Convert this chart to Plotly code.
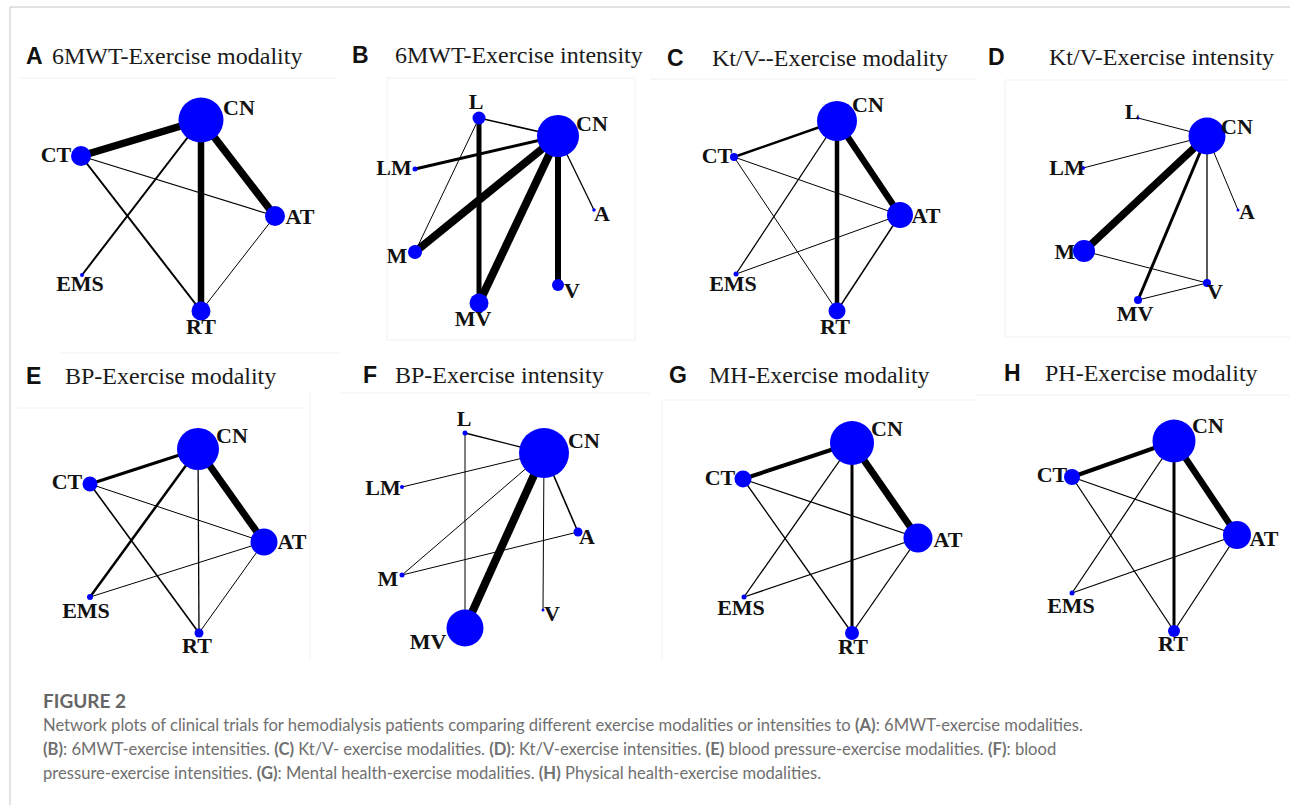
import plotly.graph_objects as go

W, H = 1290, 805

# ---------------- data (node layout in panel-local units, node weights, edge weights) ----------------
panel_ids = ["A", "B", "C", "D", "E", "F", "G", "H"]
panel_titles = ["6MWT-Exercise modality", "6MWT-Exercise intensity", "Kt/V--Exercise modality",
                "Kt/V-Exercise intensity", "BP-Exercise modality", "BP-Exercise intensity",
                "MH-Exercise modality", "PH-Exercise modality"]

A_nodes = ["CN", "CT", "AT", "EMS", "RT"]
A_x = [201, 81, 275, 82, 201]
A_y = [90, 126, 186, 245, 281]
A_size = [45, 20, 20, 4, 19]
A_edges = [("CN", "CT"), ("CN", "AT"), ("CN", "RT"), ("CN", "EMS"), ("CT", "RT"), ("CT", "AT"), ("AT", "RT")]
A_weight = [7.5, 7.5, 6.5, 2, 2, 1.2, 1]

B_nodes = ["L", "CN", "LM", "A", "M", "V", "MV"]
B_x = [139, 218, 75, 254, 75, 218, 139]
B_y = [88, 106, 139, 180, 222, 255, 273]
B_size = [13, 42, 5, 3.5, 14, 12, 19]
B_edges = [("L", "CN"), ("L", "M"), ("L", "MV"), ("LM", "CN"), ("M", "CN"), ("MV", "CN"), ("V", "CN"), ("A", "CN")]
B_weight = [1.5, 1, 5, 3, 8, 8, 6, 1.3]

C_nodes = ["CN", "CT", "AT", "EMS", "RT"]
C_x = [187, 84, 250, 86, 187]
C_y = [91, 127, 185, 244, 281]
C_size = [40, 8, 26, 5, 17]
C_edges = [("CN", "CT"), ("CN", "AT"), ("CN", "RT"), ("CN", "EMS"), ("CT", "AT"), ("CT", "RT"), ("EMS", "AT"), ("AT", "RT")]
C_weight = [2.5, 6.5, 4.5, 1.3, 1, 1, 1, 1.5]

D_nodes = ["CN", "L", "LM", "A", "M", "V", "MV"]
D_x = [232, 163, 108, 263, 109, 232, 163]
D_y = [106, 88, 138, 180, 221, 253, 270]
D_size = [37, 3, 4, 3, 22, 8, 8]
D_edges = [("CN", "L"), ("CN", "LM"), ("CN", "A"), ("CN", "M"), ("CN", "MV"), ("CN", "V"), ("M", "V"), ("MV", "V")]
D_weight = [1, 1, 1, 7.5, 3, 1.3, 1, 1]

E_nodes = ["CN", "CT", "AT", "EMS", "RT"]
E_x = [198, 90, 264, 90, 199]
E_y = [99, 134, 192, 247, 283]
E_size = [42, 15, 27, 6, 9]
E_edges = [("CN", "CT"), ("CN", "AT"), ("CN", "EMS"), ("CN", "RT"), ("CT", "AT"), ("CT", "RT"), ("EMS", "AT"), ("AT", "RT")]
E_weight = [3, 7, 2.5, 1.3, 1, 1.6, 1, 1]

F_nodes = ["L", "CN", "LM", "A", "M", "V", "MV"]
F_x = [125, 204, 62, 238, 62, 203, 125]
F_y = [83, 103, 137, 182, 225, 260, 278]
F_size = [5, 50, 4, 9, 5, 3, 37]
F_edges = [("L", "CN"), ("L", "MV"), ("LM", "CN"), ("M", "CN"), ("M", "A"), ("CN", "A"), ("CN", "V"), ("CN", "MV")]
F_weight = [1.3, 1, 1, 1, 1, 1.6, 1, 8]

G_nodes = ["CN", "CT", "AT", "EMS", "RT"]
G_x = [202, 93, 268, 94, 202]
G_y = [93, 129, 188, 247, 283]
G_size = [44, 17, 29, 5, 14]
G_edges = [("CN", "CT"), ("CN", "AT"), ("CN", "RT"), ("CN", "EMS"), ("CT", "AT"), ("CT", "RT"), ("EMS", "AT"), ("AT", "RT")]
G_weight = [4, 7, 3, 1.3, 1.3, 1.3, 1.3, 1.3]

H_nodes = ["CN", "CT", "AT", "EMS", "RT"]
H_x = [199, 97, 262, 97, 199]
H_y = [91, 127, 185, 243, 281]
H_size = [43, 16, 28, 5, 12]
H_edges = [("CN", "CT"), ("CN", "AT"), ("CN", "RT"), ("CN", "EMS"), ("CT", "AT"), ("CT", "RT"), ("EMS", "AT"), ("AT", "RT")]
H_weight = [4, 6.5, 3, 1.2, 1.2, 1.2, 1.2, 1.2]

caption_head = "FIGURE 2"
caption_lines = [
    "Network plots of clinical trials for hemodialysis patients comparing different exercise modalities or intensities to <b>(A)</b>: 6MWT-exercise modalities.",
    "<b>(B)</b>: 6MWT-exercise intensities. <b>(C)</b> Kt/V- exercise modalities. <b>(D)</b>: Kt/V-exercise intensities. <b>(E)</b> blood pressure-exercise modalities. <b>(F)</b>: blood",
    "pressure-exercise intensities. <b>(G)</b>: Mental health-exercise modalities. <b>(H)</b> Physical health-exercise modalities.",
]

# ---------------- layout config (not data) ----------------
panel_data = {
    "A": (A_nodes, A_x, A_y, A_size, A_edges, A_weight),
    "B": (B_nodes, B_x, B_y, B_size, B_edges, B_weight),
    "C": (C_nodes, C_x, C_y, C_size, C_edges, C_weight),
    "D": (D_nodes, D_x, D_y, D_size, D_edges, D_weight),
    "E": (E_nodes, E_x, E_y, E_size, E_edges, E_weight),
    "F": (F_nodes, F_x, F_y, F_size, F_edges, F_weight),
    "G": (G_nodes, G_x, G_y, G_size, G_edges, G_weight),
    "H": (H_nodes, H_x, H_y, H_size, H_edges, H_weight),
}
# panel boxes in pixels: x0, y0, w, h
boxes = {
    "A": (0, 30, 340, 315), "B": (340, 30, 310, 315), "C": (650, 30, 325, 315), "D": (975, 30, 315, 315),
    "E": (0, 350, 340, 315), "F": (340, 350, 310, 315), "G": (650, 350, 325, 315), "H": (975, 350, 315, 315),
}
# label offsets (dx, dy) from node centre, in pixels
label_off = {
    "A": [(38, -11), (-25, 0), (25, 2), (-2, 10), (0, 17)],
    "B": [(-3, -15), (34, -11), (-21, 0), (8, 5), (-18, 5), (14, 7), (-6, 17)],
    "C": [(31, -15), (-17, 0), (26, 2), (-3, 11), (-2, 17)],
    "D": [(30, -8), (-6, -5), (-16, 1), (9, 3), (-19, 2), (8, 10), (-3, 15)],
    "E": [(34, -12), (-23, -1), (28, 1), (-4, 15), (-2, 14)],
    "F": [(-1, -13), (40, -11), (-19, 2), (9, 6), (-14, 5), (9, 5), (-37, 15)],
    "G": [(35, -13), (-23, 0), (30, 3), (-3, 12), (1, 15)],
    "H": [(34, -14), (-20, -1), (27, 5), (-1, 14), (-1, 14)],
}
title_pos = {  # letter centre x, title left x, y (pixels)
    "A": (34, 50, 56), "B": (360, 393, 55), "C": (675, 710, 58), "D": (996, 1047, 57),
    "E": (33, 63, 376), "F": (370, 393, 375), "G": (678, 707, 375), "H": (1012, 1043, 373),
}

def px(x):
    return x / W

def py(y):
    return 1 - y / H

fig = go.Figure()
layout_axes = {}
annotations = []
shapes = []

SERIF = "Liberation Serif, Times New Roman, serif"
SANS = "Liberation Sans, Arial, sans-serif"

for i, pid in enumerate(panel_ids):
    nodes, xs, ys, sizes, edges, weights = panel_data[pid]
    x0, y0, bw, bh = boxes[pid]
    k = "" if i == 0 else str(i + 1)
    xa, ya = "x" + k, "y" + k
    layout_axes["xaxis" + k] = dict(domain=[px(x0), px(x0 + bw)], range=[0, bw], visible=False,
                                    fixedrange=True, anchor=ya)
    layout_axes["yaxis" + k] = dict(domain=[py(y0 + bh), py(y0)], range=[bh, 0], visible=False,
                                    fixedrange=True, anchor=xa)
    idx = {n: j for j, n in enumerate(nodes)}
    for (a, b), w in zip(edges, weights):
        fig.add_trace(go.Scatter(x=[xs[idx[a]], xs[idx[b]]], y=[ys[idx[a]], ys[idx[b]]], mode="lines",
                                 line=dict(color="black", width=w), xaxis=xa, yaxis=ya,
                                 hoverinfo="skip", showlegend=False, cliponaxis=False))
    fig.add_trace(go.Scatter(x=xs, y=ys, mode="markers",
                             marker=dict(size=sizes, color="#0000ff", opacity=1, line=dict(width=0)),
                             opacity=1, xaxis=xa, yaxis=ya, text=nodes,
                             hoverinfo="text", showlegend=False, cliponaxis=False))
    lx = [x + d[0] for x, d in zip(xs, label_off[pid])]
    ly = [y + d[1] for y, d in zip(ys, label_off[pid])]
    fig.add_trace(go.Scatter(x=lx, y=ly, mode="text", text=nodes, textposition="middle center",
                             textfont=dict(family=SERIF, size=22, color="#111111", weight="bold"),
                             xaxis=xa, yaxis=ya, hoverinfo="skip", showlegend=False, cliponaxis=False))
    lc, tl, ty = title_pos[pid]
    annotations.append(dict(text=pid, x=px(lc), y=py(ty), xref="paper", yref="paper", showarrow=False,
                            xanchor="center", yanchor="middle",
                            font=dict(family=SANS, size=23, color="#111111", weight="bold")))
    annotations.append(dict(text=panel_titles[i], x=px(tl), y=py(ty), xref="paper", yref="paper",
                            showarrow=False, xanchor="left", yanchor="middle",
                            font=dict(family=SERIF, size=24, color="#1a1a1a")))

# caption
annotations.append(dict(text="<b>" + caption_head + "</b>", x=px(41), y=py(700), xref="paper", yref="paper",
                        showarrow=False, xanchor="left", yanchor="middle",
                        font=dict(family="Lato, Open Sans, sans-serif", size=19, color="#666666")))
for j, line in enumerate(caption_lines):
    annotations.append(dict(text=line, x=px(41), y=py(725 + 24 * j), xref="paper", yref="paper",
                            showarrow=False, xanchor="left", yanchor="middle",
                            font=dict(family="Lato, Open Sans, sans-serif", size=16.6, color="#707070")))

# page frame and faint image borders
def seg(xa_, ya_, xb_, yb_, color, width=1):
    shapes.append(dict(type="line", xref="paper", yref="paper", x0=px(xa_), y0=py(ya_), x1=px(xb_),
                       y1=py(yb_), line=dict(color=color, width=width)))

seg(10, 7, 10, 805, "#c8c8c8")
seg(10, 7, 1290, 7, "#c8c8c8")
faint = "#f0f0f0"
seg(20, 78, 335, 78, faint)
seg(387, 78, 635, 78, faint); seg(387, 78, 387, 340, faint); seg(635, 78, 635, 340, faint); seg(387, 340, 635, 340, faint)
seg(650, 79, 975, 79, faint)
seg(1005, 80, 1290, 80, faint); seg(1005, 80, 1005, 337, faint); seg(1005, 337, 1290, 337, faint)
seg(60, 353, 340, 353, faint); seg(18, 408, 305, 408, faint); seg(310, 393, 310, 660, faint)
seg(340, 393, 650, 393, faint)
seg(662, 400, 975, 400, faint); seg(662, 400, 662, 660, faint)
seg(975, 395, 1290, 395, faint)

fig.update_layout(width=W, height=H, autosize=False, margin=dict(l=0, r=0, t=0, b=0),
                  paper_bgcolor="white", plot_bgcolor="white", annotations=annotations, shapes=shapes,
                  **layout_axes)

fig.write_html("out.html", config={"displayModeBar": False},
               post_script="document.body.style.margin='0';document.body.style.overflow='hidden';")
